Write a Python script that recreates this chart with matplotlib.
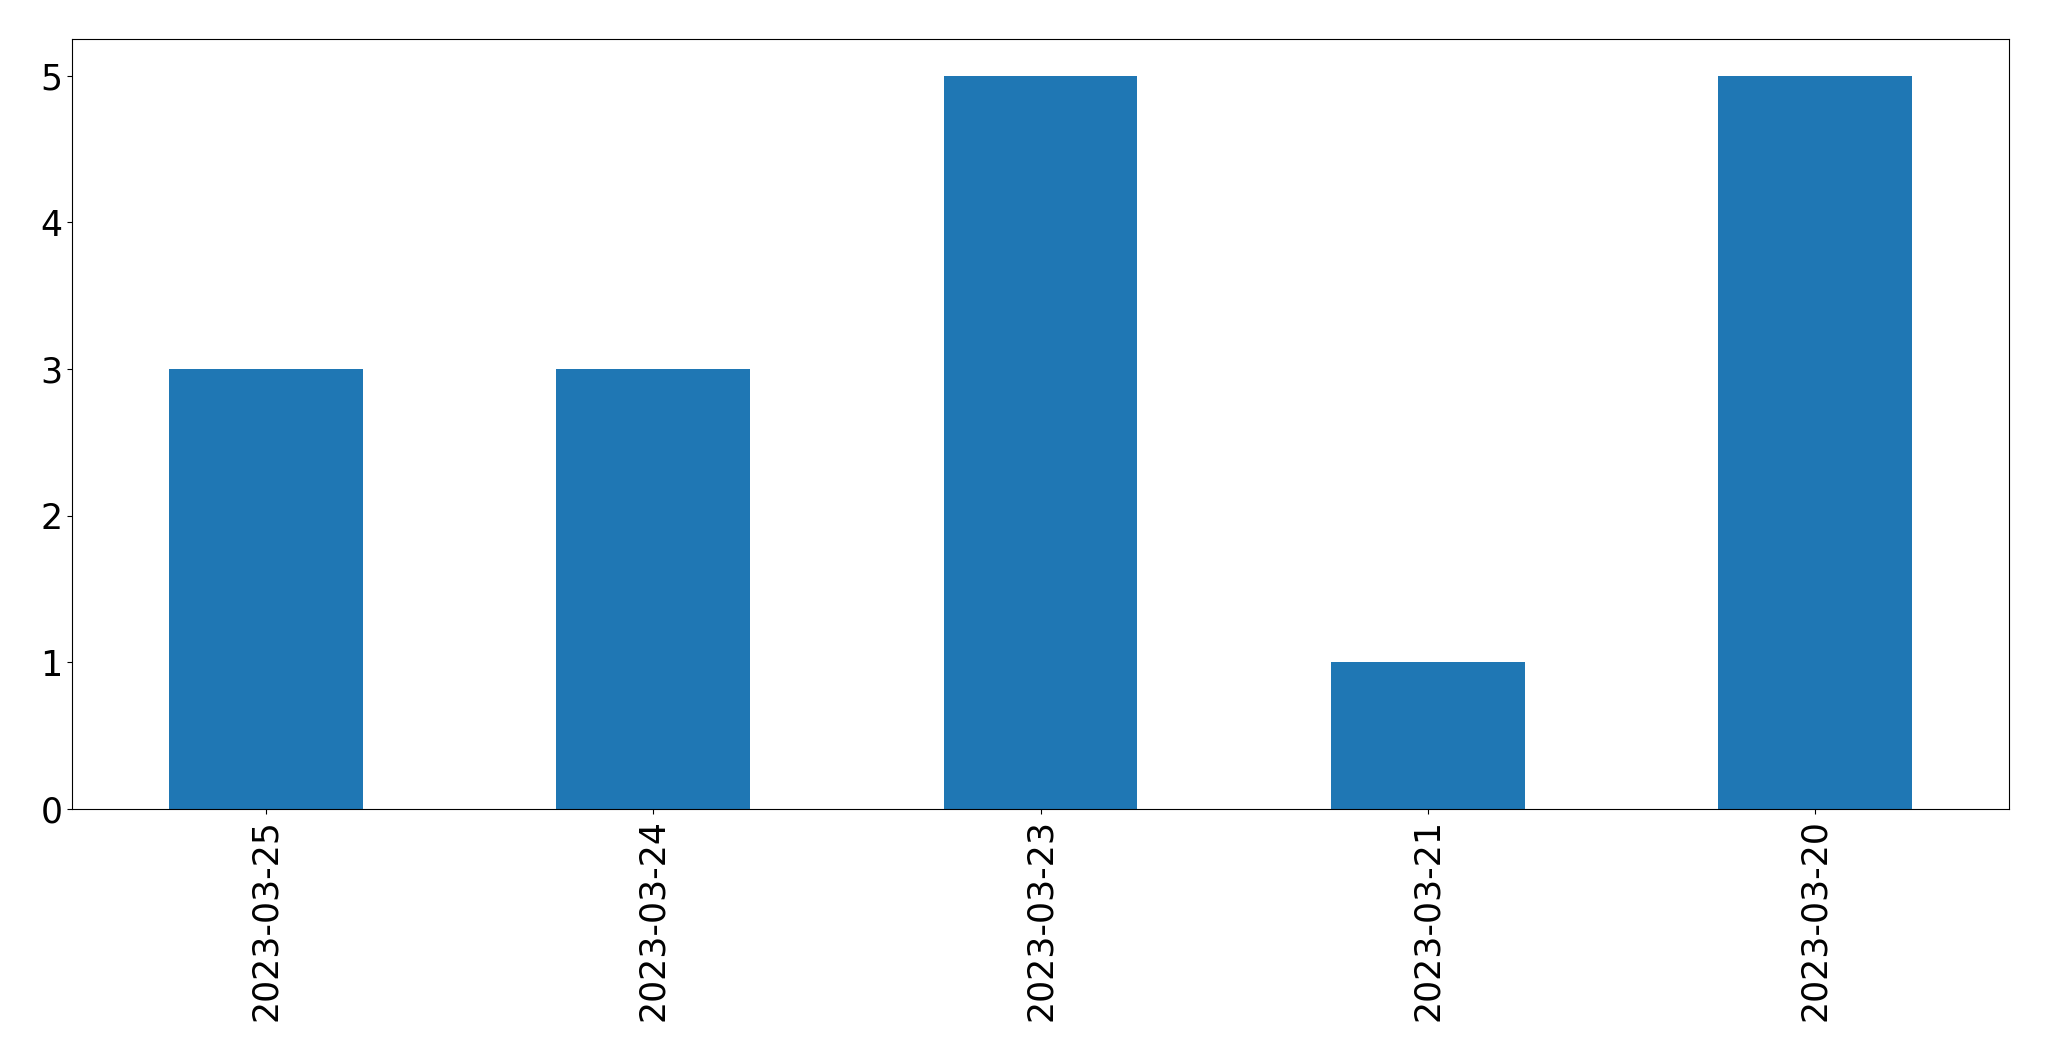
import matplotlib
matplotlib.use('Agg')
import matplotlib.pyplot as plt
import pandas as pd

# counts per day, in the order they appear
dates = ['2023-03-25', '2023-03-24', '2023-03-23', '2023-03-21', '2023-03-20']
counts = [3, 3, 5, 1, 5]

s = pd.Series(counts, index=dates)

fig = plt.figure(figsize=(20.49, 10.61), dpi=100)
ax = fig.add_axes([72 / 2049, (1061 - 809) / 1061, (2009 - 72) / 2049, (809 - 39) / 1061])
s.plot(kind='bar', ax=ax, color='#1f77b4')
ax.tick_params(axis='both', labelsize=25)
plt.setp(ax.get_xticklabels(), rotation=90)
fig.savefig('out.png', dpi=100)
